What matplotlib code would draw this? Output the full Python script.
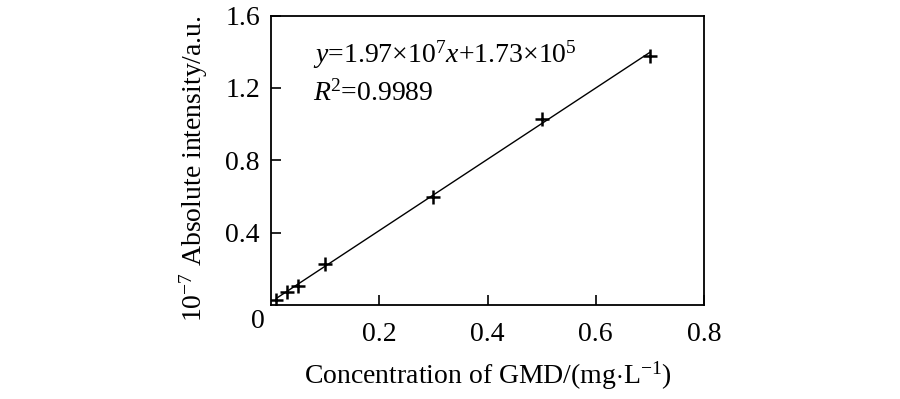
import matplotlib
matplotlib.use("Agg")
import matplotlib.pyplot as plt
import numpy as np

plt.rcParams['font.family'] = ['Liberation Serif', 'DejaVu Serif']
plt.rcParams['mathtext.fontset'] = 'custom'
plt.rcParams['mathtext.rm'] = 'Liberation Serif'
plt.rcParams['mathtext.it'] = 'Liberation Serif:italic'

conc = [0.01, 0.03, 0.05, 0.10, 0.30, 0.50, 0.70]
intensity = [0.025, 0.07, 0.105, 0.228, 0.596, 1.03, 1.375]
slope = 1.97
intercept = 0.0173
xticks = [0.2, 0.4, 0.6, 0.8]
yticks = [0.4, 0.8, 1.2, 1.6]

fig = plt.figure(figsize=(9, 3.99), dpi=100)
ax = fig.add_axes([271/900, 1 - 305/399, (704-271)/900, (305-15.5)/399])

xl = np.array([conc[0], conc[-1]])
ax.plot(xl, slope*xl + intercept, color='black', lw=1.0)
ax.plot(conc, intensity, ls='none', marker='+', ms=10, mew=1.8, color='black')

fs = 20
ax.set_xlim(0, 0.8)
ax.set_ylim(0, 1.6)
ax.set_xticks(xticks)
ax.set_yticks(yticks)
ax.set_xticklabels(['0.2', '0.4', '0.6', '0.8'])
ax.set_yticklabels(['0.4', '0.8', '1.2', '1.6'])
ax.tick_params(direction='in', length=7, width=1.2, labelsize=fs)
ax.tick_params(axis='x', pad=12)
ax.tick_params(axis='y', pad=8)
for s in ax.spines.values():
    s.set_linewidth(1.3)
ax.text(-0.015, -0.015, '0', transform=ax.transAxes, ha='right', va='top', fontsize=fs)

ax.set_xlabel(r'Concentration of GMD/(mg$\cdot$L$^{-1}$)', fontsize=fs, labelpad=9)
ax.set_ylabel(r'10$^{-7}$ Absolute intensity/a.u.', fontsize=fs, labelpad=11)
ax.yaxis.label.set_y(0.472)

ax.text(0.078, 1.383, r'$y$=1.97×10$^{7}$$x$+1.73×10$^{5}$', fontsize=fs, va='center')
ax.text(0.078, 1.172, r'$R$$^{2}$=0.9989', fontsize=fs, va='center')

fig.savefig('out.png', dpi=100)
